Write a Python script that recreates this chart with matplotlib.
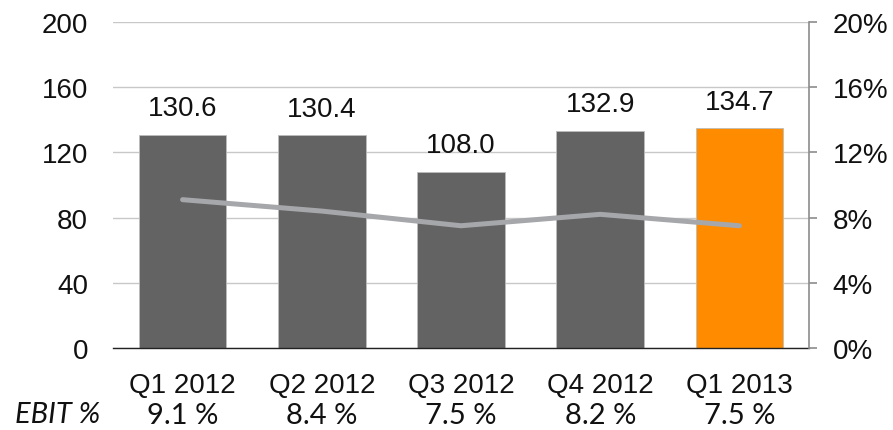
import matplotlib
matplotlib.use('Agg')
import numpy as np
from matplotlib import pyplot as plt
from matplotlib.ticker import FuncFormatter

quarters = ['Q1 2012', 'Q2 2012', 'Q3 2012', 'Q4 2012', 'Q1 2013']
sales = [130.6, 130.4, 108.0, 132.9, 134.7]
ebit_pct = [9.1, 8.4, 7.5, 8.2, 7.5]
ebit_labels = ['9.1 %', '8.4 %', '7.5 %', '8.2 %', '7.5 %']
bar_colors = ['#636363', '#636363', '#636363', '#636363', '#FF8C00']

plt.rcParams['font.family'] = ['Liberation Sans', 'DejaVu Sans']

fig = plt.figure(figsize=(8.93, 4.31), dpi=100)
ax = fig.add_axes([113 / 893, 1 - 349 / 431, 696 / 893, 326 / 431])
x = np.arange(len(quarters))

ax.bar(x, sales, width=0.63, color=bar_colors, edgecolor='#bdbdbd',
       linewidth=0.6, zorder=2)
for xi, v in zip(x, sales):
    ax.annotate(f'{v:.1f}', (xi, v), xytext=(0, 10), textcoords='offset points',
                ha='center', va='bottom', fontsize=20, color='#111111')

ax.set_xlim(-0.5, len(quarters) - 0.5)
ax.set_ylim(0, 200)
ax.set_yticks([0, 40, 80, 120, 160, 200])
ax.grid(axis='y', color='#c8c8c8', linewidth=1.0, zorder=0)
ax.set_axisbelow(True)
for side in ['left', 'right', 'top']:
    ax.spines[side].set_visible(False)
ax.spines['bottom'].set_color('#222222')
ax.spines['bottom'].set_linewidth(1.0)
ax.tick_params(axis='y', length=0, labelsize=20, pad=18, colors='#111111')
ax.tick_params(axis='x', length=0, labelsize=20, pad=17, colors='#111111')
ax.set_xticks(x)
ax.set_xticklabels(quarters)

ax2 = ax.twinx()
ax2.plot(x, ebit_pct, color='#a6a7aa', linewidth=3.6, solid_capstyle='round',
         zorder=3)
ax2.set_ylim(0, 20)
ax2.set_yticks([0, 4, 8, 12, 16, 20])
ax2.yaxis.set_major_formatter(FuncFormatter(lambda v, p: f'{v:.0f}%'))
for side in ['left', 'top', 'bottom']:
    ax2.spines[side].set_visible(False)
ax2.spines['right'].set_color('#8c8c8c')
ax2.spines['right'].set_linewidth(1.2)
ax2.tick_params(axis='y', direction='out', length=6, width=1.2, color='#8c8c8c',
                labelsize=20, pad=11, labelcolor='#111111')

# EBIT % row under the category labels
for xi, lbl in zip(x, ebit_labels):
    ax.text(xi, -0.205, lbl, transform=ax.get_xaxis_transform(), ha='center',
            va='center', fontsize=21, family=['Lato', 'DejaVu Sans'],
            color='#111111')
fig.text(15 / 893, 1 - 415 / 431, 'EBIT %', ha='left', va='center',
         fontsize=21, style='italic', family=['Lato', 'DejaVu Sans'],
         color='#111111')

fig.savefig('out.png', dpi=100)
